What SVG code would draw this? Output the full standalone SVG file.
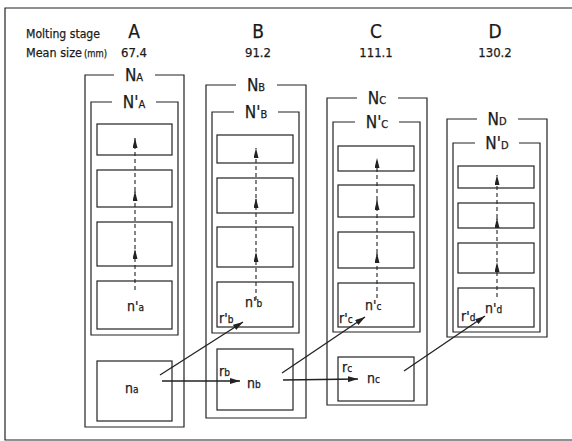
<svg xmlns="http://www.w3.org/2000/svg" width="572" height="441" viewBox="0 0 572 441">
<style>
text{font-family:"Liberation Sans Narrow","DejaVu Sans Condensed","Liberation Sans",sans-serif;fill:#1a1a1a;stroke:#1a1a1a;stroke-width:0.25}
.box{fill:none;stroke:#222;stroke-width:1.2}
.ln{fill:none;stroke:#222;stroke-width:1.2}
.dash{fill:none;stroke:#222;stroke-width:1.1;stroke-dasharray:4 3}
.arr{fill:none;stroke:#222;stroke-width:1.3}
.hd{font-size:13px}
.st{font-size:19px;text-anchor:middle}
.sz{font-size:13px;text-anchor:middle}
.N{font-size:17px;text-anchor:middle}
.lab{font-size:14px}
.sub{font-size:10px}
</style>
<defs>
<marker id="ah" viewBox="0 0 10 6" refX="10" refY="3" markerWidth="10" markerHeight="6" markerUnits="userSpaceOnUse" orient="auto">
<path d="M0,0 L10,3 L0,6 Z" fill="#222"/>
</marker>
<marker id="dh" viewBox="0 0 10 5" refX="10" refY="2.5" markerWidth="10" markerHeight="5" markerUnits="userSpaceOnUse" orient="auto">
<path d="M0,0 L10,2.5 L0,5 Z" fill="#222"/>
</marker>
</defs>
<rect width="572" height="441" fill="#fff"/>
<path class="ln" d="M572,8 H5 V440 H572"/>
<g id="header">
<text class="hd" x="26" y="38" textLength="74" lengthAdjust="spacingAndGlyphs">Molting stage</text>
<text class="hd" x="26" y="57" textLength="56" lengthAdjust="spacingAndGlyphs">Mean size</text>
<text x="84" y="57" font-size="11" textLength="23" lengthAdjust="spacingAndGlyphs">(mm)</text>
<text class="st" x="134" y="38">A</text>
<text class="sz" x="134" y="57">67.4</text>
<text class="st" x="258" y="38">B</text>
<text class="sz" x="258" y="57">91.2</text>
<text class="st" x="376" y="38">C</text>
<text class="sz" x="376" y="57">111.1</text>
<text class="st" x="495" y="38">D</text>
<text class="sz" x="495" y="57">130.2</text>
</g>
<g id="stageA">
<path class="ln" d="M114,75 H85 V427 H184 V75 H155"/>
<text class="N" x="134" y="81">N<tspan font-size="11">A</tspan></text>
<path class="ln" d="M112,102 H91 V335 H178 V102 H156"/>
<text class="N" x="134" y="108">N'<tspan font-size="11">A</tspan></text>
<rect class="box" x="97" y="124" width="75" height="31"/>
<rect class="box" x="97" y="170" width="75" height="37"/>
<rect class="box" x="97" y="222" width="75" height="44"/>
<rect class="box" x="97" y="281" width="75" height="48"/>
<text class="lab" x="127" y="311">n'<tspan class="sub">a</tspan></text>
</g>
<g id="na">
<rect class="box" x="97" y="361" width="75" height="60"/>
<text class="lab" x="125" y="393">n<tspan class="sub">a</tspan></text>
</g>
<g id="stageB">
<path class="ln" d="M236,85 H206 V418 H306 V85 H277"/>
<text class="N" x="256" y="91">N<tspan font-size="11">B</tspan></text>
<path class="ln" d="M234,112 H212 V333 H299 V112 H278"/>
<text class="N" x="256" y="118">N'<tspan font-size="11">B</tspan></text>
<rect class="box" x="217" y="135" width="76" height="28"/>
<rect class="box" x="217" y="178" width="76" height="35"/>
<rect class="box" x="217" y="227" width="76" height="40"/>
<rect class="box" x="217" y="282" width="76" height="45"/>
<text class="lab" x="245" y="307">n'<tspan class="sub">b</tspan></text>
<text class="lab" x="219" y="323">r'<tspan class="sub">b</tspan></text>
</g>
<g id="nb">
<rect class="box" x="217" y="349" width="76" height="61"/>
<text class="lab" x="219" y="376">r<tspan class="sub">b</tspan></text>
<text class="lab" x="247" y="388">n<tspan class="sub">b</tspan></text>
</g>
<g id="stageC">
<path class="ln" d="M357,98 H327 V405 H427 V98 H398"/>
<text class="N" x="377" y="104">N<tspan font-size="11">C</tspan></text>
<path class="ln" d="M355,122 H333 V332 H420 V122 H399"/>
<text class="N" x="377" y="128">N'<tspan font-size="11">C</tspan></text>
<rect class="box" x="338" y="146" width="76" height="25"/>
<rect class="box" x="338" y="185" width="76" height="32"/>
<rect class="box" x="338" y="232" width="76" height="36"/>
<rect class="box" x="338" y="283" width="76" height="44"/>
<text class="lab" x="365" y="310">n'<tspan class="sub">c</tspan></text>
<text class="lab" x="339" y="323">r'<tspan class="sub">c</tspan></text>
</g>
<g id="nc">
<rect class="box" x="338" y="357" width="76" height="44"/>
<text class="lab" x="342" y="372">r<tspan class="sub">c</tspan></text>
<text class="lab" x="367" y="383">n<tspan class="sub">c</tspan></text>
</g>
<g id="stageD">
<path class="ln" d="M477,119 H447 V337 H547 V119 H518"/>
<text class="N" x="497" y="125">N<tspan font-size="11">D</tspan></text>
<path class="ln" d="M475,143 H453 V332 H540 V143 H519"/>
<text class="N" x="497" y="149">N'<tspan font-size="11">D</tspan></text>
<rect class="box" x="458" y="166" width="76" height="22"/>
<rect class="box" x="458" y="203" width="76" height="25"/>
<rect class="box" x="458" y="243" width="76" height="30"/>
<rect class="box" x="458" y="288" width="76" height="39"/>
<text class="lab" x="485" y="313">n'<tspan class="sub">d</tspan></text>
<text class="lab" x="461" y="321">r'<tspan class="sub">d</tspan></text>
</g>
<g id="connectors">
<path class="dash" d="M135,290 V249" marker-end="url(#dh)"/>
<path class="dash" d="M135,249 V191" marker-end="url(#dh)"/>
<path class="dash" d="M135,191 V138" marker-end="url(#dh)"/>
<path class="dash" d="M256,300 V252" marker-end="url(#dh)"/>
<path class="dash" d="M256,252 V198" marker-end="url(#dh)"/>
<path class="dash" d="M256,198 V148" marker-end="url(#dh)"/>
<path class="dash" d="M377,298 V253" marker-end="url(#dh)"/>
<path class="dash" d="M377,253 V200" marker-end="url(#dh)"/>
<path class="dash" d="M377,200 V158" marker-end="url(#dh)"/>
<path class="dash" d="M497,297 V262" marker-end="url(#dh)"/>
<path class="dash" d="M497,262 V218" marker-end="url(#dh)"/>
<path class="dash" d="M497,218 V175" marker-end="url(#dh)"/>
<path class="arr" d="M160,375 L243,322" marker-end="url(#ah)"/>
<path class="arr" d="M282,373 L365,317" marker-end="url(#ah)"/>
<path class="arr" d="M404,371 L485,316" marker-end="url(#ah)"/>
<path class="arr" d="M162,381 L240,381" marker-end="url(#ah)"/>
<path class="arr" d="M283,380 L358,379" marker-end="url(#ah)"/>
</g>
</svg>
